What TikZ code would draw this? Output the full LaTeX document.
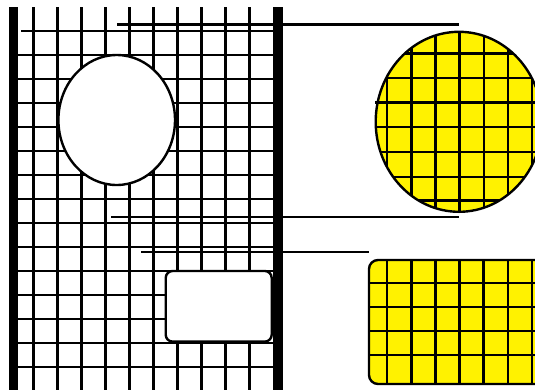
\documentclass[tikz,border=0pt]{standalone}
\usetikzlibrary{shapes.geometric}
\begin{document}
\begin{tikzpicture}[x=1pt,y=-1pt,
  gridline/.style={line width=2.4pt,black},
  bar/.style={fill=black},
  lens/.style={ellipse,draw,fill=white,line width=2.4pt,inner sep=0pt,minimum width=116.6pt,minimum height=130pt},
  winbox/.style={rectangle,rounded corners=7pt,draw,fill=white,line width=2.4pt,inner sep=0pt,minimum width=106pt,minimum height=70.7pt},
  zoomfill/.style={ellipse,fill=yellow,inner sep=0pt,minimum width=166.6pt,minimum height=180pt},
  zoomedge/.style={ellipse,draw,line width=2.4pt,inner sep=0pt,minimum width=166.6pt,minimum height=180pt},
  rectfill/.style={rectangle,rounded corners=9pt,fill=yellow,inner sep=0pt,minimum width=180pt,minimum height=124pt},
  rectedge/.style={rectangle,rounded corners=9pt,draw,line width=2.4pt,inner sep=0pt,minimum width=180pt,minimum height=124pt},
  connector/.style={line width=2.4pt,black}]
\useasboundingbox (0,0) rectangle (535,389);
% left grid
\foreach \x in {33.3,57.3,81.3,105.3,129.3,153.3,177.3,201.3,225.3,249.3}
  \draw[gridline] (\x,7) -- (\x,395);
\draw[gridline] (21,30.7) -- (278,30.7);
\foreach \y in {54.7,78.7,102.7,126.7,150.7,174.7,198.7,222.7,246.7,270.7,294.7,318.7,342.7,366.7,390.7}
  \draw[gridline] (13,\y) -- (278,\y);
% bars
\fill[bar] (9,7) rectangle (18,395);
\fill[bar] (273,7) rectangle (283,395);
% lens and window
\node[lens] (lens) at (116.7,120) {};
\node[winbox] (win) at (218.7,306.3) {};
% yellow zoom circle
\node[zoomfill] (zc) at (459,121.8) {};
\begin{scope}
  \clip (459,121.8) ellipse [x radius=83.3, y radius=90];
  \foreach \x in {387,411.3,435.3,459.3,483.7,508,532}
    \draw[gridline] (\x,25) -- (\x,220);
  \foreach \y in {53.3,78,102.3,127,152,176.7,200.3}
    \draw[gridline] (370,\y) -- (545,\y);
\end{scope}
\draw[gridline] (375,102.3) -- (380,102.3);
\node[zoomedge] (zcedge) at (zc.center) {};
% yellow zoom rectangle
\node[rectfill] (zr) at (459,322) {};
\begin{scope}
  \clip[rounded corners=9pt] (369,260) rectangle (549,384);
  \foreach \x in {387,411.3,435.3,459.3,483.3,507.7,531.7}
    \draw[gridline] (\x,255) -- (\x,390);
  \foreach \y in {283,306.7,331,355}
    \draw[gridline] (365,\y) -- (545,\y);
\end{scope}
\node[rectedge] (zredge) at (zr.center) {};
% connectors
\coordinate (a1) at (117,24.3);
\coordinate (a2) at (459,24.3);
\coordinate (b1) at (111,216.7);
\coordinate (b2) at (459,216.7);
\coordinate (c1) at (141,252);
\coordinate (c2) at (369,252);
\draw[connector] (a1) -- (a2);
\draw[connector] (b1) -- (b2);
\draw[connector] (c1) -- (c2);
\end{tikzpicture}
\end{document}
